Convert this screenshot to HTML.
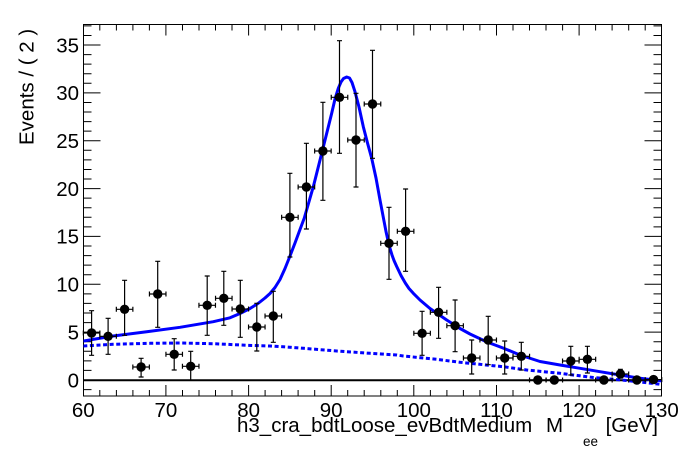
<!DOCTYPE html>
<html><head><meta charset="utf-8"><style>
html,body{margin:0;padding:0;background:#fff;}
svg{display:block;}
text{font-family:"Liberation Sans",Arial,sans-serif;fill:#000;}
</style></head><body>
<svg width="696" height="472" viewBox="0 0 696 472" xmlns="http://www.w3.org/2000/svg">
<defs>
<clipPath id="cp"><rect x="83.5" y="24.5" width="578" height="371.5"/></clipPath>
<g id="h"><path d="M-8.26 0H8.26M-8.26 -2.5v5M8.26 -2.5v5" stroke="#000" stroke-width="1.2" fill="none"/><circle r="4.7" fill="#000"/></g>
</defs>
<rect width="696" height="472" fill="#fff"/>
<rect x="83.5" y="24.5" width="578" height="371.5" fill="none" stroke="#000" stroke-width="1"/>
<path stroke="#000" stroke-width="1" fill="none" d="
M83.5 389.57h8 M83.5 380h17 M83.5 370.43h8 M83.5 360.86h8 M83.5 351.29h8 M83.5 341.72h8 M83.5 332.15h17 M83.5 322.57h8 M83.5 313h8 M83.5 303.43h8 M83.5 293.86h8 M83.5 284.29h17 M83.5 274.72h8 M83.5 265.15h8 M83.5 255.58h8 M83.5 246h8 M83.5 236.43h17 M83.5 226.86h8 M83.5 217.29h8 M83.5 207.72h8 M83.5 198.15h8 M83.5 188.58h17 M83.5 179h8 M83.5 169.44h8 M83.5 159.87h8 M83.5 150.3h8 M83.5 140.73h17 M83.5 131.15h8 M83.5 121.58h8 M83.5 112.01h8 M83.5 102.44h8 M83.5 92.87h17 M83.5 83.3h8 M83.5 73.73h8 M83.5 64.16h8 M83.5 54.59h8 M83.5 45.02h17 M83.5 35.44h8 M83.5 25.87h8
M661.5 389.57h-8 M661.5 380h-17 M661.5 370.43h-8 M661.5 360.86h-8 M661.5 351.29h-8 M661.5 341.72h-8 M661.5 332.15h-17 M661.5 322.57h-8 M661.5 313h-8 M661.5 303.43h-8 M661.5 293.86h-8 M661.5 284.29h-17 M661.5 274.72h-8 M661.5 265.15h-8 M661.5 255.58h-8 M661.5 246h-8 M661.5 236.43h-17 M661.5 226.86h-8 M661.5 217.29h-8 M661.5 207.72h-8 M661.5 198.15h-8 M661.5 188.58h-17 M661.5 179h-8 M661.5 169.44h-8 M661.5 159.87h-8 M661.5 150.3h-8 M661.5 140.73h-17 M661.5 131.15h-8 M661.5 121.58h-8 M661.5 112.01h-8 M661.5 102.44h-8 M661.5 92.87h-17 M661.5 83.3h-8 M661.5 73.73h-8 M661.5 64.16h-8 M661.5 54.59h-8 M661.5 45.02h-17 M661.5 35.44h-8 M661.5 25.87h-8
"/>
<path stroke="#000" stroke-width="1" fill="none" d="
M83.5 396v-11 M99.8 396v-6 M116.4 396v-6 M132.9 396v-6 M149.4 396v-6 M165.9 396v-11 M182.5 396v-6 M199 396v-6 M215.5 396v-6 M232 396v-6 M248.6 396v-11 M265.1 396v-6 M281.6 396v-6 M298.1 396v-6 M314.7 396v-6 M331.2 396v-11 M347.7 396v-6 M364.2 396v-6 M380.8 396v-6 M397.3 396v-6 M413.8 396v-11 M430.4 396v-6 M446.9 396v-6 M463.4 396v-6 M479.9 396v-6 M496.5 396v-11 M513 396v-6 M529.5 396v-6 M546 396v-6 M562.6 396v-6 M579.1 396v-11 M595.6 396v-6 M612.1 396v-6 M628.7 396v-6 M645.2 396v-6
M83.5 24.5v11 M99.8 24.5v6 M116.4 24.5v6 M132.9 24.5v6 M149.4 24.5v6 M165.9 24.5v11 M182.5 24.5v6 M199 24.5v6 M215.5 24.5v6 M232 24.5v6 M248.6 24.5v11 M265.1 24.5v6 M281.6 24.5v6 M298.1 24.5v6 M314.7 24.5v6 M331.2 24.5v11 M347.7 24.5v6 M364.2 24.5v6 M380.8 24.5v6 M397.3 24.5v6 M413.8 24.5v11 M430.4 24.5v6 M446.9 24.5v6 M463.4 24.5v6 M479.9 24.5v6 M496.5 24.5v11 M513 24.5v6 M529.5 24.5v6 M546 24.5v6 M562.6 24.5v6 M579.1 24.5v11 M595.6 24.5v6 M612.1 24.5v6 M628.7 24.5v6 M645.2 24.5v6
"/>
<g font-size="20.5" text-anchor="end">
<text x="79" y="387.3">0</text>
<text x="79" y="339.5">5</text>
<text x="79" y="291.6">10</text>
<text x="79" y="243.7">15</text>
<text x="79" y="195.9">20</text>
<text x="79" y="148">25</text>
<text x="79" y="100.2">30</text>
<text x="79" y="52.3">35</text>
</g>
<g font-size="20.5" text-anchor="middle">
<text x="83.3" y="417">60</text>
<text x="165.9" y="417">70</text>
<text x="248.6" y="417">80</text>
<text x="331.2" y="417">90</text>
<text x="413.8" y="417">100</text>
<text x="496.5" y="417">110</text>
<text x="579.1" y="417">120</text>
<text x="661.7" y="417">130</text>
</g>
<text x="237" y="432" font-size="20.5">h3_cra_bdtLoose_evBdtMedium</text>
<text x="546" y="432" font-size="20.5">M</text>
<text x="583" y="446" font-size="13.5">ee</text>
<text x="658" y="432" font-size="20.5" text-anchor="end">[GeV]</text>
<text transform="translate(33.5,145) rotate(-90)" font-size="20.5">Events / ( 2 )</text>
<line x1="83.5" y1="380.2" x2="661.5" y2="380.2" stroke="#000" stroke-width="2"/>
<g clip-path="url(#cp)">
<polyline fill="none" stroke="#0000ff" stroke-width="3" stroke-dasharray="4 2.6" points="83.3,346 113,344.3 150,343.3 180,343 213,343.7 246.7,345.3 270,346 286.7,347 303.3,348.3 336.7,351 370,353.3 396.7,355 403.3,356 436.7,359.3 460,362.3 470,363.3 493.3,365.7 503.3,366.7 526.7,370 560,373.3 593.3,377.5 626.7,380.5 645,382.5 663,384.6"/>
<polyline fill="none" stroke="#0000ff" stroke-width="3" stroke-linejoin="round" points="83.3,341 113.3,336 146.7,331.7 180,327.3 213.3,321.7 230,317.8 240,313.5 250,308.5 258,303.5 265,298 270,293.5 275,287.5 280,279.5 285,268.5 290,256 295,243 300,229.5 304.3,218 313.3,186.7 322.3,151 331.7,113.3 335,99 338.3,88.3 341,82 343.5,78.5 346.7,77 349.5,78 352,82.5 355,91.7 359,107 363.3,126.7 367.5,143 371.7,158.3 376,178 380,200 384,221 386,231.5 388,240.5 390,248.5 392,255 394,260.5 396.7,266.5 401,275.5 405.3,283 409,288.5 413.3,293.3 420,300 430,308.5 446.7,320 460,328.5 470,334 487,342 503,348 520,355 540,361.5 560,365 580,368.3 600,371.7 620,375 640,378.3 663,381"/>
</g>
<path stroke="#000" stroke-width="1.2" fill="none" d="
M91.6 310.7V355.3M89.1 310.7h5M89.1 355.3h5
M108.1 318.3V354.3M105.6 318.3h5M105.6 354.3h5
M124.6 280.3V335.3M122.1 280.3h5M122.1 335.3h5
M141.1 358.3V377M138.6 358.3h5M138.6 377h5
M157.7 261.3V327.3M155.2 261.3h5M155.2 327.3h5
M174.2 338.7V370M171.7 338.7h5M171.7 370h5
M190.7 351.3V380M188.2 351.3h5
M207.2 276V335.3M204.7 276h5M204.7 335.3h5
M223.8 271.3V325.3M221.3 271.3h5M221.3 325.3h5
M240.3 280.3V337.3M237.8 280.3h5M237.8 337.3h5
M256.8 303.3V351M254.3 303.3h5M254.3 351h5
M273.3 291.3V342.3M270.8 291.3h5M270.8 342.3h5
M289.9 173.3V257M287.4 173.3h5M287.4 257h5
M306.4 143.3V229M303.9 143.3h5M303.9 229h5
M322.9 102.3V200.3M320.4 102.3h5M320.4 200.3h5
M339.5 40.7V153.3M337 40.7h5M337 153.3h5
M356 93.3V187M353.5 93.3h5M353.5 187h5
M372.5 50.3V158.3M370 50.3h5M370 158.3h5
M389 207.3V279.3M386.5 207.3h5M386.5 279.3h5
M405.6 189V271.3M403.1 189h5M403.1 271.3h5
M422.1 311.3V355.3M419.6 311.3h5M419.6 355.3h5
M438.6 287.3V338.3M436.1 287.3h5M436.1 338.3h5
M455.1 300V351.7M452.6 300h5M452.6 351.7h5
M471.7 340V374M469.2 340h5M469.2 374h5
M488.2 316.3V364.7M485.7 316.3h5M485.7 364.7h5
M504.7 341V374M502.2 341h5M502.2 374h5
M521.3 342.3V370M518.8 342.3h5M518.8 370h5
M570.8 346.3V375M568.3 346.3h5M568.3 375h5
M587.4 346.3V373M584.9 346.3h5M584.9 373h5
M620.4 369.3V378M617.9 369.3h5M617.9 378h5
"/>
<use href="#h" x="91.6" y="333"/>
<use href="#h" x="108.1" y="336.3"/>
<use href="#h" x="124.6" y="309.3"/>
<use href="#h" x="141.1" y="367"/>
<use href="#h" x="157.7" y="294"/>
<use href="#h" x="174.2" y="354.3"/>
<use href="#h" x="190.7" y="366.3"/>
<use href="#h" x="207.2" y="305.3"/>
<use href="#h" x="223.8" y="298.3"/>
<use href="#h" x="240.3" y="309"/>
<use href="#h" x="256.8" y="327"/>
<use href="#h" x="273.3" y="316"/>
<use href="#h" x="289.9" y="217.3"/>
<use href="#h" x="306.4" y="187"/>
<use href="#h" x="322.9" y="151"/>
<use href="#h" x="339.5" y="97.3"/>
<use href="#h" x="356" y="140"/>
<use href="#h" x="372.5" y="104"/>
<use href="#h" x="389" y="243.3"/>
<use href="#h" x="405.6" y="231.3"/>
<use href="#h" x="422.1" y="333.3"/>
<use href="#h" x="438.6" y="312.3"/>
<use href="#h" x="455.1" y="325.7"/>
<use href="#h" x="471.7" y="358"/>
<use href="#h" x="488.2" y="340"/>
<use href="#h" x="504.7" y="358"/>
<use href="#h" x="521.3" y="356.3"/>
<use href="#h" x="537.8" y="380"/>
<use href="#h" x="554.3" y="380"/>
<use href="#h" x="570.8" y="361"/>
<use href="#h" x="587.4" y="359.3"/>
<use href="#h" x="603.9" y="380"/>
<use href="#h" x="620.4" y="374"/>
<use href="#h" x="636.9" y="380"/>
<use href="#h" x="653.5" y="379.6"/>
</svg>
</body></html>
